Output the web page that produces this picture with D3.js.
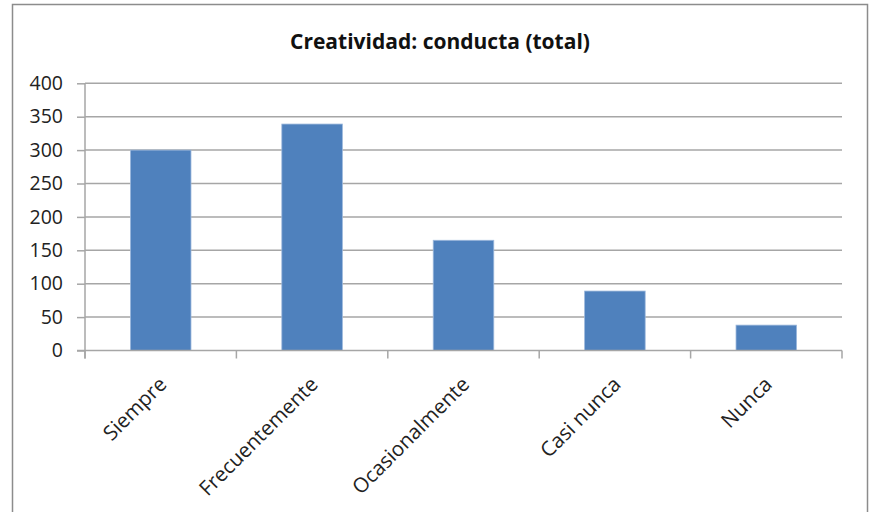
<!DOCTYPE html>
<html>
<head>
<meta charset="utf-8">
<script src="https://cdn.jsdelivr.net/npm/d3@7"></script>
<style>
  html, body { margin: 0; padding: 0; background: #fff; }
  svg { display: block; }
</style>
</head>
<body>
<svg id="chart" width="872" height="512"></svg>
<script>
// Respuestas de conducta creativa (total)
const categories = ["Siempre", "Frecuentemente", "Ocasionalmente", "Casi nunca", "Nunca"];
const values = [300, 339, 165, 89, 38];
const yTicks = [0, 50, 100, 150, 200, 250, 300, 350, 400];
const title = "Creatividad: conducta (total)";

const svg = d3.select("#chart");
const font = "'Open Sans', 'Noto Sans', sans-serif";

// chart frame (bottom edge runs past the canvas)
svg.append("rect")
  .attr("x", 12.5).attr("y", 4.5)
  .attr("width", 855).attr("height", 530)
  .attr("fill", "#fff").attr("stroke", "#8c8c8c").attr("stroke-width", 1.5);

const plot = { left: 85, right: 842, top: 83.3, bottom: 350.5 };

const x = d3.scaleBand()
  .domain(categories)
  .range([plot.left, plot.right])
  .paddingInner(0.6).paddingOuter(0.3);

const xEdges = d3.scaleBand().domain(categories).range([plot.left, plot.right]);

const y = d3.scaleLinear().domain([0, 400]).range([plot.bottom, plot.top]);

// title
svg.append("text")
  .attr("x", 440).attr("y", 49)
  .attr("text-anchor", "middle")
  .attr("font-family", font).attr("font-weight", "bold")
  .attr("font-size", 21).attr("fill", "#111")
  .text(title);

// left tick marks and value labels
const yAxis = d3.axisLeft(y).tickValues(yTicks).tickSize(8).tickPadding(14);
const gy = svg.append("g").attr("transform", `translate(${plot.left},0)`).call(yAxis);
gy.select(".domain").remove();
gy.selectAll(".tick line").attr("stroke", "#a6a6a6").attr("stroke-width", 1.5);
gy.selectAll(".tick text")
  .attr("font-family", font).attr("font-size", 19.5).attr("fill", "#222");

// horizontal gridlines
svg.append("g").selectAll("line.grid")
  .data(yTicks.filter(d => d > 0))
  .join("line")
  .attr("x1", plot.left).attr("x2", plot.right)
  .attr("y1", d => y(d)).attr("y2", d => y(d))
  .attr("stroke", "#a6a6a6").attr("stroke-width", 1.5);

// bars
svg.append("g").selectAll("rect")
  .data(values)
  .join("rect")
  .attr("x", (d, i) => x(categories[i]))
  .attr("width", x.bandwidth())
  .attr("y", d => y(d))
  .attr("height", d => y(0) - y(d))
  .attr("fill", "#4f81bd")
  .attr("stroke", "#9cb8dc").attr("stroke-width", 0.8);

// vertical axis line
svg.append("line")
  .attr("x1", plot.left).attr("x2", plot.left)
  .attr("y1", plot.top).attr("y2", plot.bottom + 8)
  .attr("stroke", "#a6a6a6").attr("stroke-width", 1.5);

// category axis with boundary ticks
svg.append("line")
  .attr("x1", plot.left - 8).attr("x2", plot.right)
  .attr("y1", plot.bottom).attr("y2", plot.bottom)
  .attr("stroke", "#a6a6a6").attr("stroke-width", 1.5);

const boundaries = categories.map(c => xEdges(c)).concat([plot.right]);
svg.append("g").selectAll("line")
  .data(boundaries)
  .join("line")
  .attr("x1", d => d).attr("x2", d => d)
  .attr("y1", plot.bottom).attr("y2", plot.bottom + 8)
  .attr("stroke", "#a6a6a6").attr("stroke-width", 1.5);

// rotated category labels
svg.append("g").selectAll("text")
  .data(categories)
  .join("text")
  .attr("transform", d => `translate(${x(d) + x.bandwidth() / 2 + 2},${plot.bottom + 30}) rotate(-45)`)
  .attr("text-anchor", "end")
  .attr("dy", "0.35em")
  .attr("font-family", font).attr("font-size", 20.5).attr("fill", "#222")
  .text(d => d);
</script>
</body>
</html>
